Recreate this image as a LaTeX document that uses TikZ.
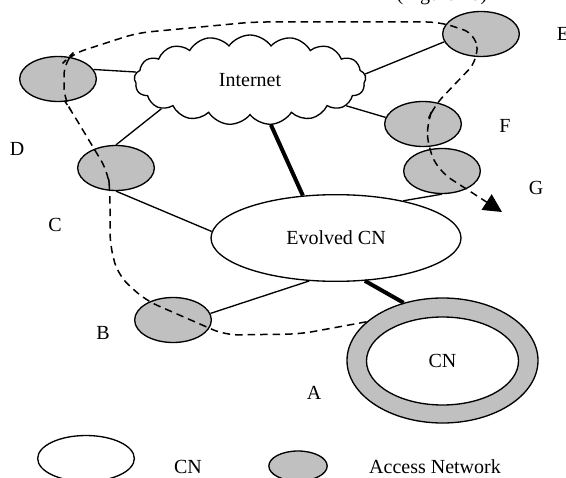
\documentclass[tikz,border=0pt]{standalone}
\usepackage{fontspec}
\setmainfont{Liberation Serif}
\usetikzlibrary{shapes.geometric, shapes.symbols, arrows.meta}
\definecolor{accgray}{HTML}{C0C0C0}

\begin{document}
\begin{tikzpicture}[
    x=0.6pt, y=-0.6pt,
    font=\fontsize{12pt}{14pt}\selectfont,
    access/.style={ellipse, draw, line width=0.8pt, fill=accgray, minimum width=46pt, minimum height=27pt, inner sep=0pt},
    core/.style={ellipse, draw, line width=0.8pt, fill=white, inner sep=0pt},
    link/.style={line width=0.8pt},
    backbone/.style={line width=2.4pt},
    route/.style={line width=0.9pt, dash pattern=on 4.5pt off 3pt, rounded corners=8pt},
    tag/.style={inner sep=0pt}
]
    \useasboundingbox (0,0) rectangle (566,477);

    % Caption cut off at the top
    \node (caption) [tag, anchor=base] at (442,1) {(Figure 10)};

    % Internet and core networks
    \node (Inet) [cloud, draw, line width=0.8pt, fill=white, cloud puffs=17, cloud puff arc=110, aspect=2.6, minimum width=139pt, minimum height=54pt, inner sep=0pt] at (250,80) {Internet};
    \node (EvCN) [core, minimum width=150pt, minimum height=52pt] at (336,238) {Evolved CN};
    \node (CNout) [core, fill=accgray, minimum width=114.6pt, minimum height=75pt] at (442.5,360.5) {};
    \node (CNin) [core, minimum width=91.2pt, minimum height=52.8pt] at (442.5,361) {CN};

    % Access networks
    \node (accD) [access] at (58,79) {};
    \node (accE) [access] at (481,34) {};
    \node (accC) [access] at (116,168) {};
    \node (accF) [access] at (423,124) {};
    \node (accG) [access] at (442,171) {};
    \node (accB) [access] at (173,320) {};

    % Labels
    \node (labA) [tag] at (314,393) {A};
    \node (labB) [tag] at (103,333) {B};
    \node (labC) [tag] at (55,225) {C};
    \node (labD) [tag] at (17,149) {D};
    \node (labE) [tag] at (563,34) {E};
    \node (labF) [tag] at (505,126) {F};
    \node (labG) [tag] at (536,188) {G};

    % Links
    \draw [link] (accD.15) -- (Inet.176);
    \draw [link] (Inet.198) -- (accC.north);
    \draw [link] (Inet.3) -- (accE.192);
    \draw [link] (Inet.345) -- (accF.170);
    \draw [link] (accC.south) -- (EvCN.177);
    \draw [link] (EvCN.29) -- (accG.south);
    \draw [link] (accB.10) -- (EvCN.238);
    \draw [backbone] (Inet.295) -- (EvCN.128);
    \draw [backbone] (EvCN.304) -- (CNout.124);

    % Movement path
    \coordinate (pathEnd) at (502,212);
    \draw [route, -{Triangle[length=11pt, width=11pt]}] (CNout.153) -- (300,334) -- (225,335)
        -- (145,300) -- (118,275) -- (110,245) -- (110,192) -- (108,172) -- (72,112)
        -- (64,100) -- (64,62) -- (72,54) -- (137,33) -- (253,22) -- (440,22)
        -- (476,34) -- (478,60) -- (434,106) -- (427,122) -- (428,148) -- (440,172) -- (pathEnd);

    % Legend
    \node (legCore) [core, minimum width=58pt, minimum height=27.6pt] at (86,458.5) {};
    \node (legCoreTxt) [tag] at (188,467) {CN};
    \node (legAcc) [access, minimum width=35pt, minimum height=18pt] at (298,466) {};
    \node (legAccTxt) [tag] at (435,467) {Access Network};

\end{tikzpicture}
\end{document}
